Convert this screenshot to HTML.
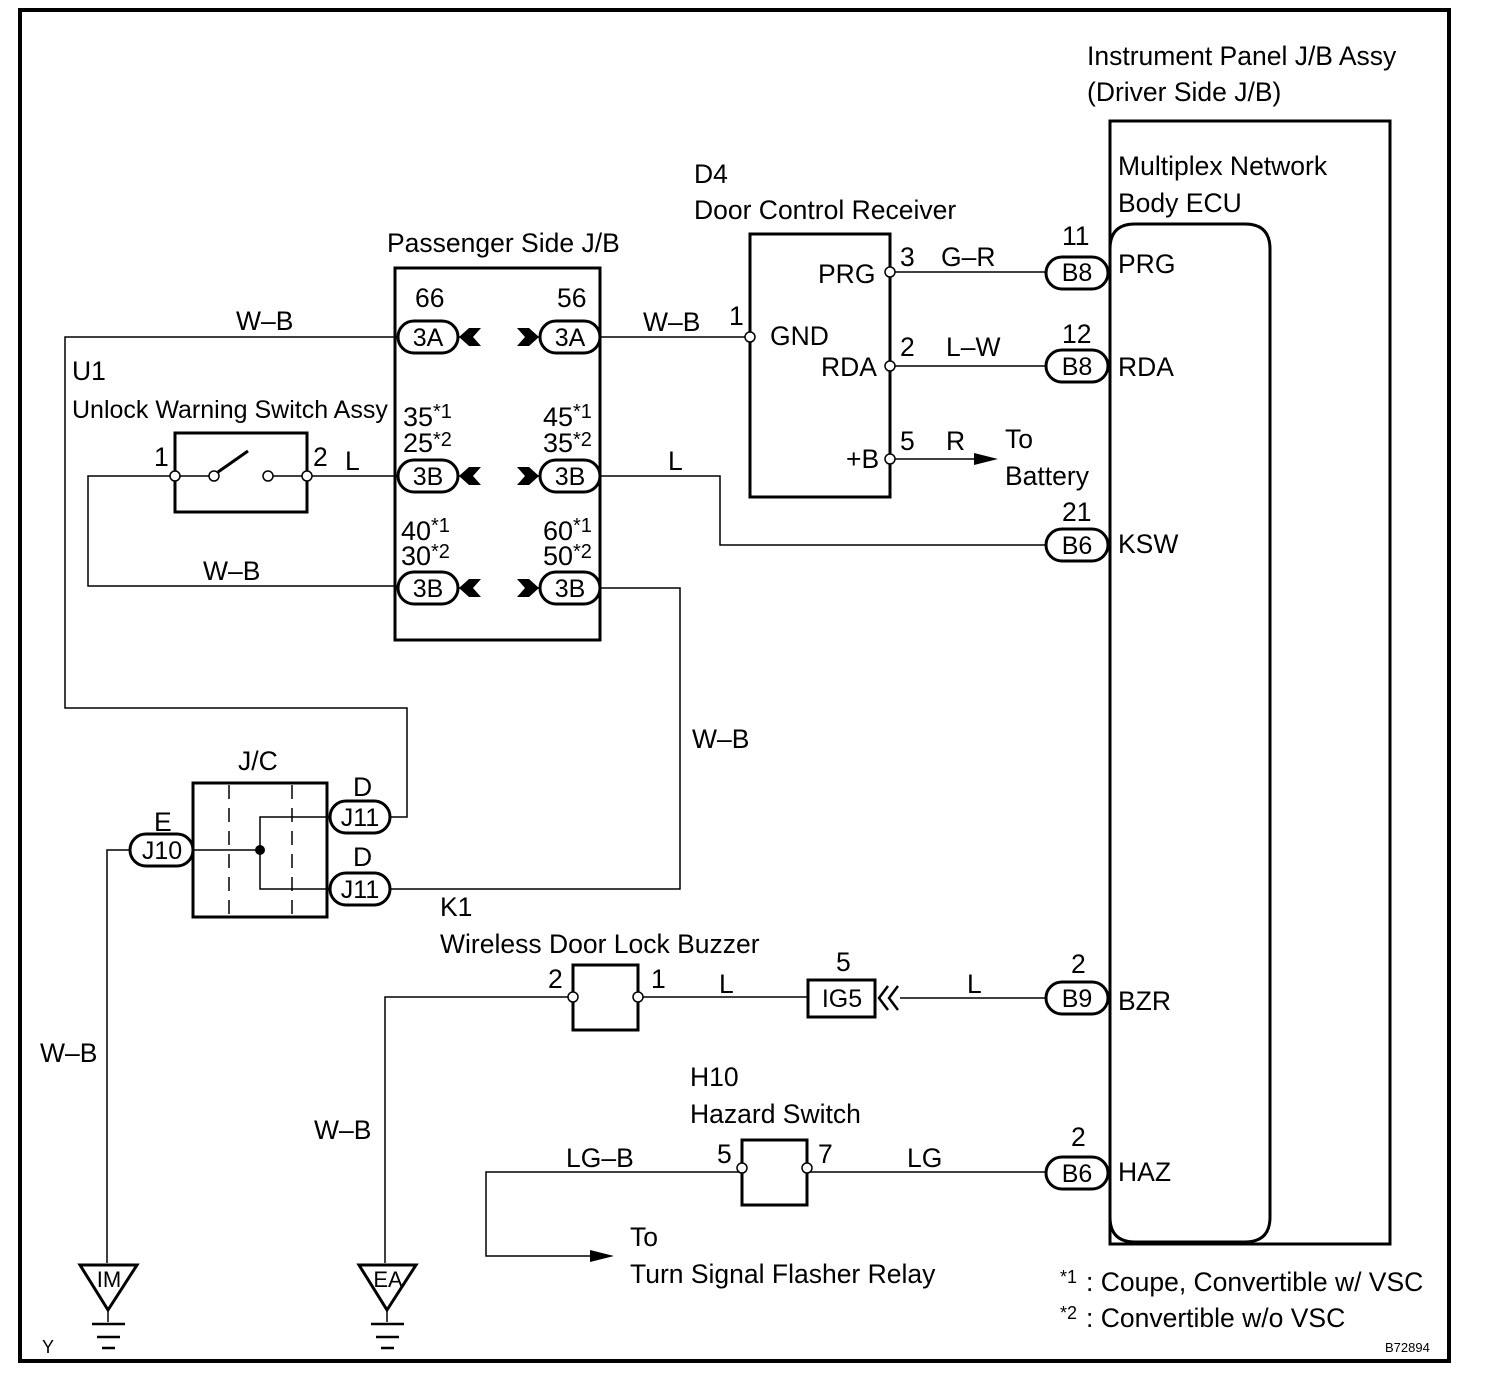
<!DOCTYPE html>
<html><head><meta charset="utf-8"><style>
html,body{margin:0;padding:0;background:#fff;}
svg{display:block;}
text{font-family:"Liberation Sans",Arial,sans-serif;fill:#000;}
</style></head><body>
<svg width="1504" height="1394" viewBox="0 0 1504 1394" xmlns="http://www.w3.org/2000/svg">
<g fill="none" stroke="#000">
<rect x="20" y="10" width="1429" height="1351" stroke-width="4"/>
<rect x="1110" y="121" width="280" height="1123" stroke-width="3"/>
<path d="M1110 1242 V249 Q1110 224 1135 224 H1245 Q1270 224 1270 249 V1217 Q1270 1242 1245 1242 H1135 Q1110 1242 1110 1217" stroke-width="3"/>
<rect x="750" y="234" width="140" height="263" stroke-width="3"/>
<rect x="395" y="268" width="205" height="372" stroke-width="3"/>
<rect x="175" y="433" width="132" height="79" stroke-width="3"/>
<line x1="175" y1="476" x2="214" y2="476" stroke-width="1.5"/>
<line x1="268" y1="476" x2="307" y2="476" stroke-width="1.5"/>
<line x1="218" y1="472" x2="248" y2="451" stroke-width="3"/>
<rect x="193" y="783" width="134" height="134" stroke-width="3"/>
<line x1="229" y1="785" x2="229" y2="915" stroke-width="1.5" stroke-dasharray="14,9"/>
<line x1="292" y1="785" x2="292" y2="915" stroke-width="1.5" stroke-dasharray="14,9"/>
<path d="M193 850 H260 M330 817 H260 V889 H330" stroke-width="1.5"/>
<path d="M573 997 V1030 H638 V997 M573 997 V965 H638 V997" stroke-width="3"/>
<rect x="742" y="1140" width="65" height="65" stroke-width="3"/>
<rect x="808" y="980" width="67" height="37" stroke-width="3"/>
<path d="M888 986 L879 998 L888 1010 M898 986 L889 998 L898 1010" stroke-width="2.5"/>
<g stroke-width="1.5">
<path d="M398 337 H65 V708 H407 V817 H390"/>
<path d="M458 337 H473 M525 337 H540"/>
<path d="M458 476 H473 M525 476 H540"/>
<path d="M458 588 H473 M525 588 H540"/>
<path d="M600 337 H750"/>
<path d="M307 476 H398"/>
<path d="M175 476 H88 V586 H398"/>
<path d="M600 476 H720 V545 H1046"/>
<path d="M600 588 H680 V889 H390"/>
<path d="M130 850 H107 V1263"/>
<path d="M890 272 H1046 M890 366 H1046"/>
<path d="M890 459 H980"/>
<path d="M573 997 H385 V1263"/>
<path d="M638 997 H808"/>
<path d="M900 998 H1046"/>
<path d="M742 1172 H486 V1256 H595"/>
<path d="M807 1172 H1046"/>
<path d="M108 1310 V1322 M387 1310 V1322"/>
</g>
<path d="M80 1265 H137 L108 1310 Z M359 1265 H416 L387 1310 Z" stroke-width="3"/>
<path d="M92 1324 H125 M97 1337 H120 M102 1348 H115 M371 1324 H404 M376 1337 H399 M381 1348 H394" stroke-width="2.5"/>
<g stroke-width="3" fill="#fff">
<rect x="398" y="321" width="60" height="32" rx="16"/>
<rect x="540" y="321" width="60" height="32" rx="16"/>
<rect x="398" y="460" width="60" height="32" rx="16"/>
<rect x="540" y="460" width="60" height="32" rx="16"/>
<rect x="398" y="572" width="60" height="32" rx="16"/>
<rect x="540" y="572" width="60" height="32" rx="16"/>
<rect x="330" y="801" width="60" height="32" rx="16"/>
<rect x="330" y="873" width="60" height="32" rx="16"/>
<rect x="130" y="834" width="63" height="32" rx="16"/>
<rect x="1046" y="257" width="62" height="32" rx="16"/>
<rect x="1046" y="350" width="62" height="32" rx="16"/>
<rect x="1046" y="529" width="62" height="32" rx="16"/>
<rect x="1046" y="982" width="62" height="32" rx="16"/>
<rect x="1046" y="1157" width="62" height="32" rx="16"/>
</g>
<g stroke-width="1.5" fill="#fff">
<circle cx="890" cy="272" r="5"/><circle cx="750" cy="337" r="5"/>
<circle cx="890" cy="366" r="5"/><circle cx="890" cy="459" r="5"/>
<circle cx="175" cy="476" r="5"/><circle cx="214" cy="476" r="5"/>
<circle cx="268" cy="476" r="5"/><circle cx="307" cy="476" r="5"/>
<circle cx="573" cy="997" r="5"/><circle cx="638" cy="997" r="5"/>
<circle cx="742" cy="1168" r="5"/><circle cx="807" cy="1168" r="5"/>
</g>
</g>
<circle cx="260" cy="850" r="5" fill="#000"/>
<g fill="#000">
<path d="M459 337 L469 328 H481 L473 337 L481 346 H469 Z"/>
<path d="M459 476 L469 467 H481 L473 476 L481 485 H469 Z"/>
<path d="M459 588 L469 579 H481 L473 588 L481 597 H469 Z"/>
<path d="M539 337 L529 328 H517 L525 337 L517 346 H529 Z"/>
<path d="M539 476 L529 467 H517 L525 476 L517 485 H529 Z"/>
<path d="M539 588 L529 579 H517 L525 588 L517 597 H529 Z"/>
<path d="M974 453 L998 459 L974 465 Z"/>
<path d="M590 1250 L614 1256 L590 1262 Z"/>
</g>

<g font-size="26.5">
<text x="1087" y="65">Instrument Panel J/B Assy</text>
<text x="1087" y="101">(Driver Side J/B)</text>
<text x="1118" y="175">Multiplex Network</text>
<text x="1118" y="212">Body ECU</text>
<text x="1118" y="273">PRG</text>
<text x="1118" y="376">RDA</text>
<text x="1118" y="553">KSW</text>
<text x="1118" y="1010">BZR</text>
<text x="1118" y="1181">HAZ</text>
<text x="1062" y="245">11</text>
<text x="1062" y="343">12</text>
<text x="1062" y="521">21</text>
<text x="1071" y="973">2</text>
<text x="1071" y="1146">2</text>
<text x="694" y="183">D4</text>
<text x="694" y="219">Door Control Receiver</text>
<text x="818" y="283">PRG</text>
<text x="770" y="345">GND</text>
<text x="821" y="376">RDA</text>
<text x="846" y="468">+B</text>
<text x="900" y="266">3</text>
<text x="900" y="356">2</text>
<text x="900" y="450">5</text>
<text x="729" y="325">1</text>
<text x="941" y="266">G–R</text>
<text x="946" y="356">L–W</text>
<text x="946" y="450">R</text>
<text x="1005" y="448">To</text>
<text x="1005" y="485">Battery</text>
<text x="387" y="252">Passenger Side J/B</text>
<text x="415" y="307">66</text>
<text x="557" y="307">56</text>
<text x="643" y="331">W–B</text>
<text x="236" y="330">W–B</text>
<text x="72" y="380">U1</text>
<text x="72" y="418" font-size="25">Unlock Warning Switch Assy</text>
<text x="154" y="466">1</text>
<text x="313" y="466">2</text>
<text x="345" y="470">L</text>
<text x="668" y="470">L</text>
<text x="203" y="580">W–B</text>
<text x="692" y="748">W–B</text>
<text x="238" y="770">J/C</text>
<text x="353" y="796">D</text>
<text x="353" y="866">D</text>
<text x="154" y="831">E</text>
<text x="440" y="916">K1</text>
<text x="440" y="953">Wireless Door Lock Buzzer</text>
<text x="548" y="988">2</text>
<text x="651" y="988">1</text>
<text x="719" y="993">L</text>
<text x="967" y="993">L</text>
<text x="836" y="971">5</text>
<text x="690" y="1086">H10</text>
<text x="690" y="1123">Hazard Switch</text>
<text x="717" y="1163">5</text>
<text x="818" y="1163">7</text>
<text x="566" y="1167">LG–B</text>
<text x="907" y="1167">LG</text>
<text x="630" y="1246">To</text>
<text x="630" y="1283">Turn Signal Flasher Relay</text>
<text x="40" y="1062">W–B</text>
<text x="314" y="1139">W–B</text>
<text x="1086" y="1291">: Coupe, Convertible w/ VSC</text>
<text x="1086" y="1327">: Convertible w/o VSC</text>
</g>
<g font-size="18"><text x="1060" y="1283">*1</text><text x="1060" y="1319">*2</text></g>
<g font-size="27">
<text x="403" y="426">35</text><text x="403" y="452">25</text>
<text x="543" y="426">45</text><text x="543" y="452">35</text>
<text x="401" y="540">40</text><text x="401" y="565">30</text>
<text x="543" y="540">60</text><text x="543" y="565">50</text>
</g>
<g font-size="20">
<text x="433" y="418">*1</text><text x="433" y="446">*2</text>
<text x="573" y="418">*1</text><text x="573" y="446">*2</text>
<text x="431" y="532">*1</text><text x="431" y="558">*2</text>
<text x="573" y="532">*1</text><text x="573" y="558">*2</text>
</g>
<g font-size="25" text-anchor="middle">
<text x="428" y="346">3A</text><text x="570" y="346">3A</text>
<text x="428" y="485">3B</text><text x="570" y="485">3B</text>
<text x="428" y="597">3B</text><text x="570" y="597">3B</text>
<text x="360" y="826">J11</text><text x="360" y="898">J11</text>
<text x="162" y="859">J10</text>
<text x="1077" y="281">B8</text><text x="1077" y="375">B8</text>
<text x="1077" y="554">B6</text><text x="1077" y="1007">B9</text>
<text x="1077" y="1182">B6</text>
<text x="842" y="1007">IG5</text>
<text x="109" y="1287" font-size="22">IM</text>
<text x="388" y="1287" font-size="22">EA</text>
</g>
<text x="42" y="1353" font-size="18">Y</text>
<text x="1385" y="1352" font-size="13">B72894</text>
</svg>
</body></html>
